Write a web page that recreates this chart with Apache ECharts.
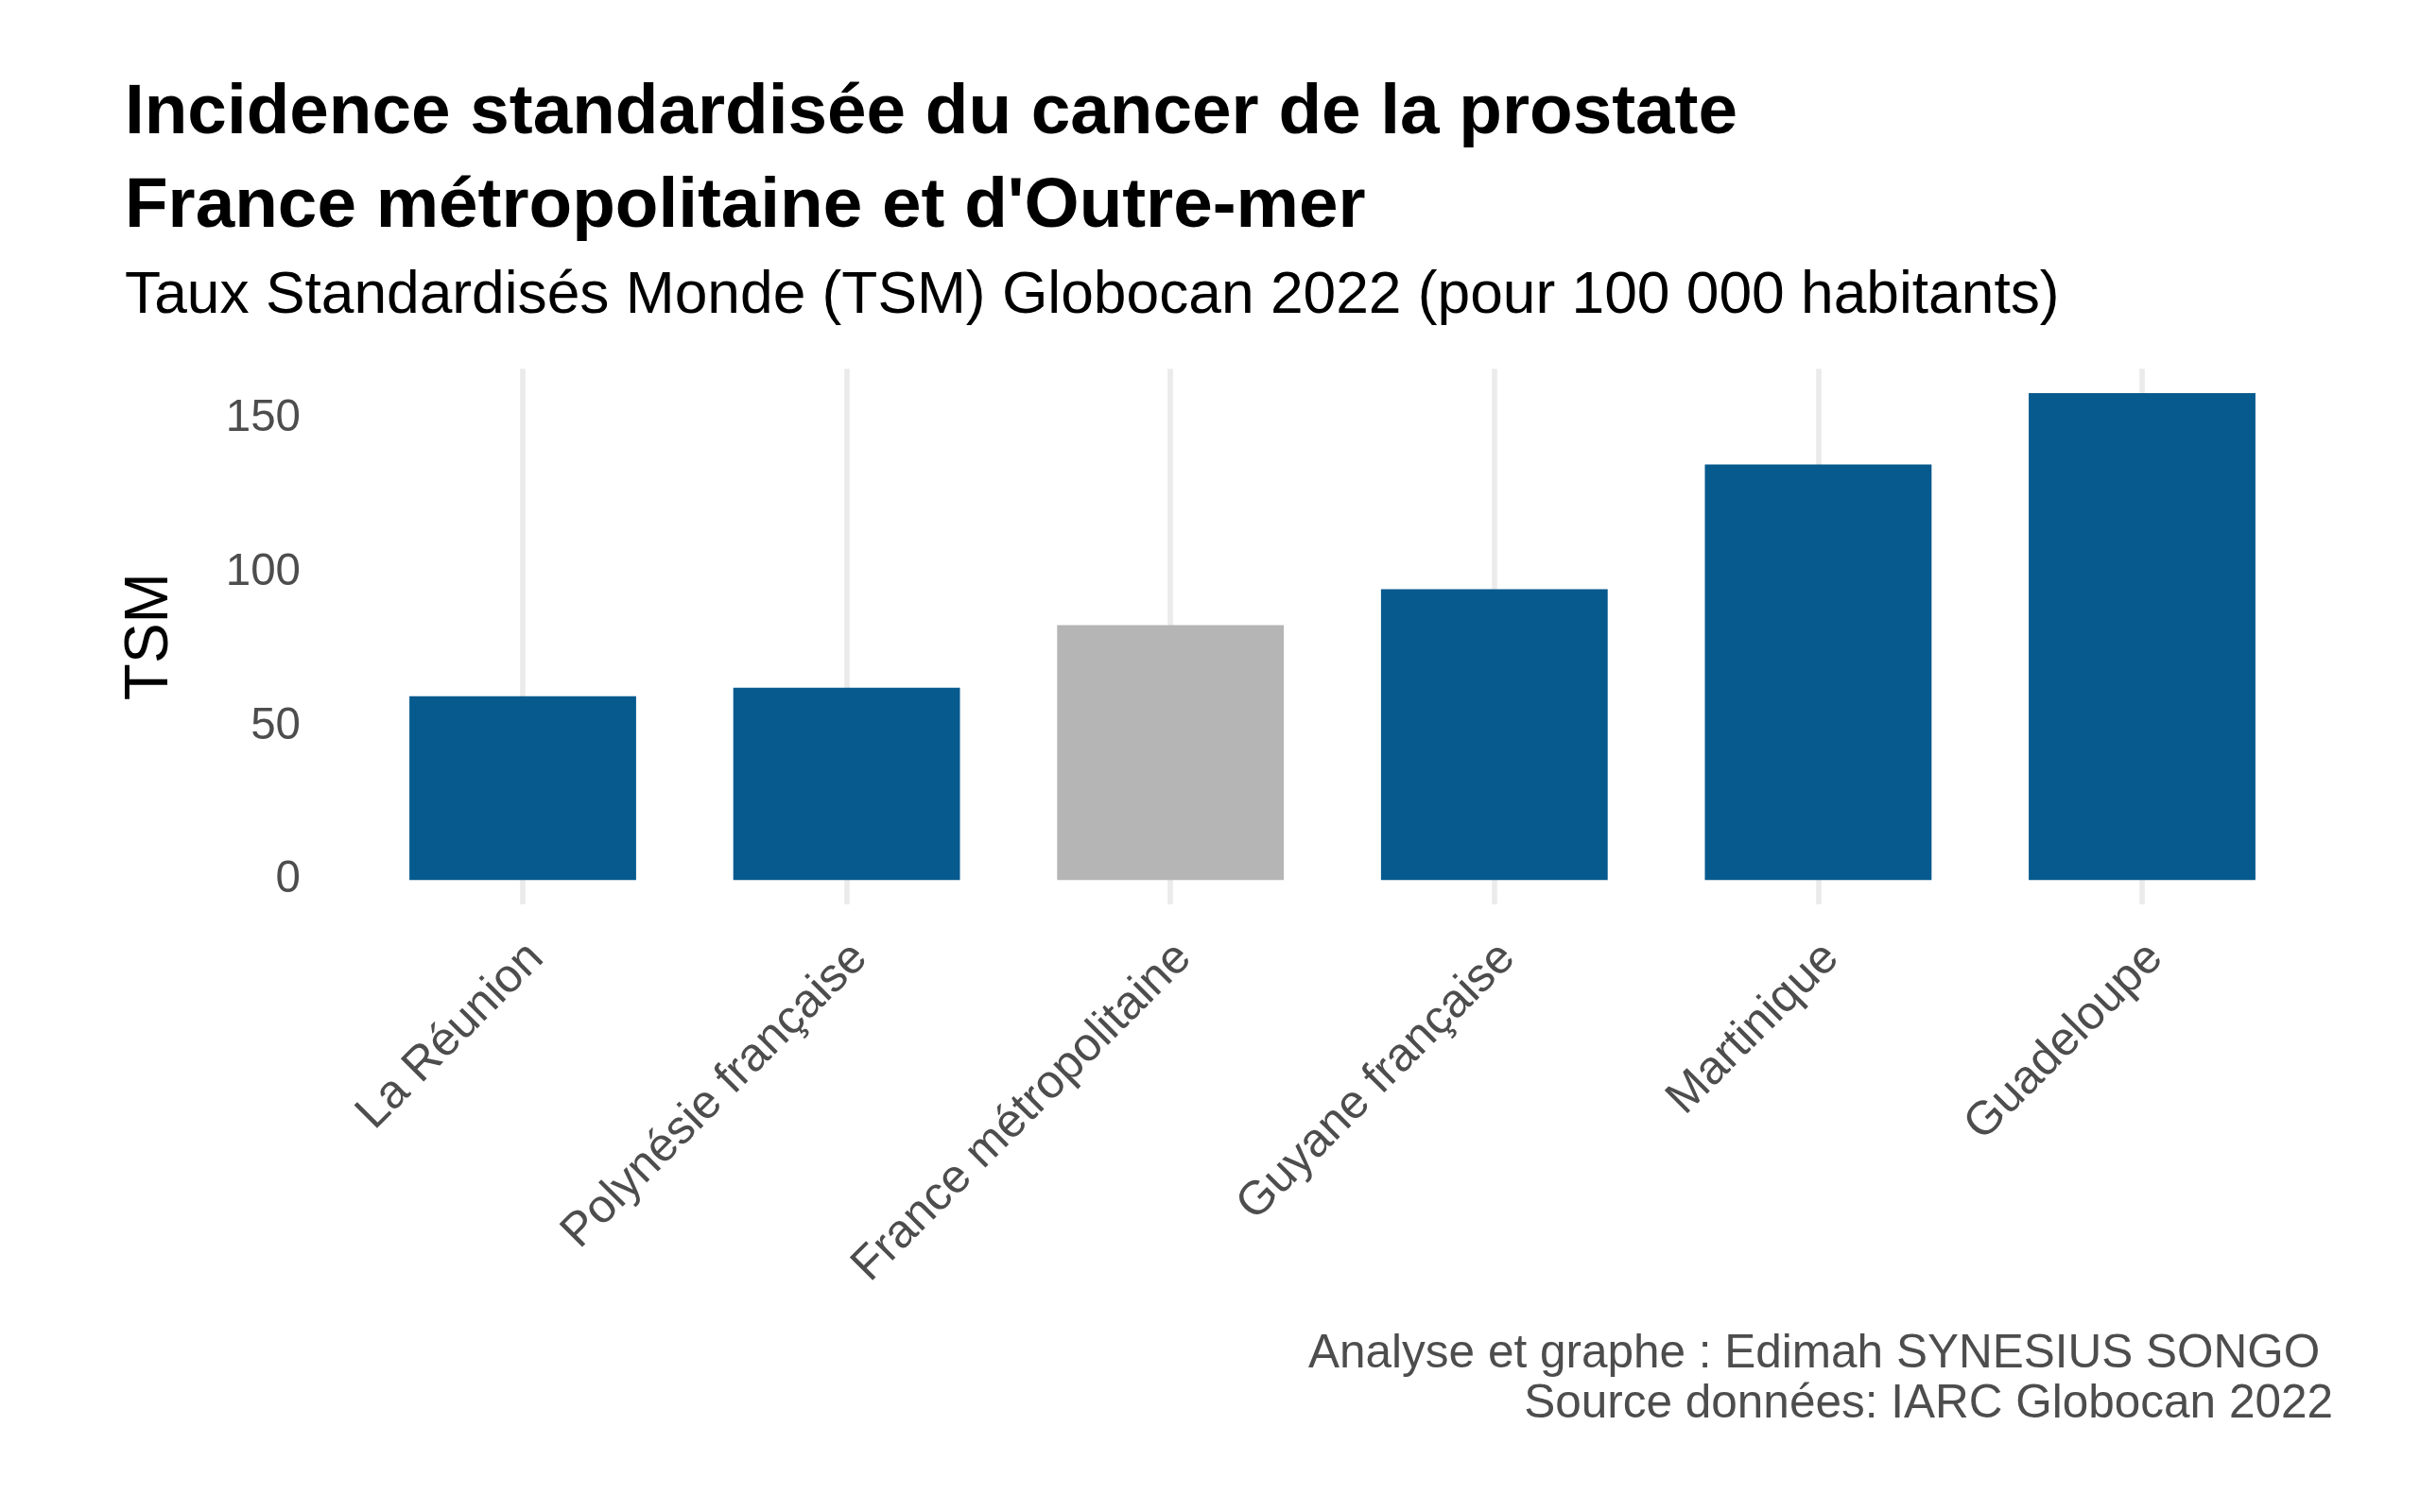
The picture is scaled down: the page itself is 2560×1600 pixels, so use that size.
<!DOCTYPE html>
<html>
<head>
<meta charset="utf-8">
<script src="https://cdn.jsdelivr.net/npm/echarts@6/dist/echarts.min.js"></script>
<style>
  html, body { margin: 0; padding: 0; background: #ffffff; }
  #chart { width: 2560px; height: 1600px; }
</style>
</head>
<body>
<div id="chart"></div>
<script>
// ---- Data ----
const categories = ['La Réunion', 'Polynésie française', 'France métropolitaine', 'Guyane française', 'Martinique', 'Guadeloupe'];
const tsmValues = [59.7, 62.5, 82.8, 94.5, 135.0, 158.2];
const yTickValues = [0, 50, 100, 150];
const referenceCategory = 'France métropolitaine';

const titleLines = ['Incidence standardisée du cancer de la prostate', "France métropolitaine et d'Outre-mer"];
const subtitleText = 'Taux Standardisés Monde (TSM) Globocan 2022 (pour 100 000 habitants)';
const captionLines = ['Analyse et graphe : Edimah SYNESIUS SONGO ', 'Source données: IARC Globocan 2022'];
const yAxisTitle = 'TSM';

// ---- Style ----
const FONT = '"Liberation Sans", Arial, Helvetica, sans-serif';
const BLUE = '#065A8E';
const GREY = '#B5B5B5';

const dataMax = Math.max(...tsmValues);
const expand = dataMax * 0.05;

const chart = echarts.init(document.getElementById('chart'), null, { renderer: 'canvas' });

const option = {
  backgroundColor: '#ffffff',
  animation: false,
  grid: { left: 381.7, right: 122.7, top: 390.3, bottom: 643, containLabel: false },
  xAxis: {
    type: 'category',
    data: categories,
    axisLine: { show: false },
    axisTick: { show: false },
    splitLine: { show: false },
    axisLabel: {
      interval: 0,
      rotate: 45,
      margin: 35,
      align: 'right',
      verticalAlign: 'top',
      lineHeight: 26,
      padding: [7, 0, 0, 0],
      fontSize: 50,
      fontFamily: FONT,
      color: '#4D4D4D',
      hideOverlap: false
    }
  },
  yAxis: {
    type: 'value',
    min: -expand,
    max: dataMax + expand,
    name: yAxisTitle,
    nameLocation: 'middle',
    nameRotate: 90,
    nameGap: 190,
    nameTextStyle: { fontSize: 64, fontFamily: FONT, color: '#000000' },
    axisLine: { show: false },
    axisTick: { show: false },
    splitLine: { show: false },
    axisLabel: {
      customValues: yTickValues,
      margin: 63.7,
      fontSize: 47.5,
      fontFamily: FONT,
      color: '#4D4D4D',
      padding: [8, 0, 0, 0]
    }
  },
  series: [
    {
      type: 'line',
      data: [],
      z: 1,
      silent: true,
      markLine: {
        z: 1,
        silent: true,
        symbol: ['none', 'none'],
        label: { show: false },
        lineStyle: { color: '#EBEBEB', width: 5.7, type: 'solid' },
        emphasis: { disabled: true },
        data: categories.map(c => ({ xAxis: c }))
      }
    },
    {
      type: 'bar',
      z: 3,
      barWidth: '70%',
      data: tsmValues.map((v, i) => ({
        value: v,
        itemStyle: { color: categories[i] === referenceCategory ? GREY : BLUE }
      }))
    }
  ],
  graphic: [
    {
      type: 'text', x: 132, y: 120.8,
      style: { text: titleLines[0], font: 'bold 74.7px ' + FONT, fill: '#000000', align: 'left', verticalAlign: 'middle' }
    },
    {
      type: 'text', x: 132, y: 219.1,
      style: { text: titleLines[1], font: 'bold 74.7px ' + FONT, fill: '#000000', align: 'left', verticalAlign: 'middle' }
    },
    {
      type: 'text', x: 132, y: 314.3,
      style: { text: subtitleText, font: '62.3px ' + FONT, fill: '#000000', align: 'left', verticalAlign: 'middle' }
    },
    {
      type: 'text', x: 2468, y: 1433.8,
      style: { text: captionLines[0], font: '49.5px ' + FONT, fill: '#4D4D4D', align: 'right', verticalAlign: 'middle' }
    },
    {
      type: 'text', x: 2468, y: 1486.1,
      style: { text: captionLines[1], font: '49.5px ' + FONT, fill: '#4D4D4D', align: 'right', verticalAlign: 'middle' }
    }
  ]
};

chart.setOption(option);
</script>
</body>
</html>
